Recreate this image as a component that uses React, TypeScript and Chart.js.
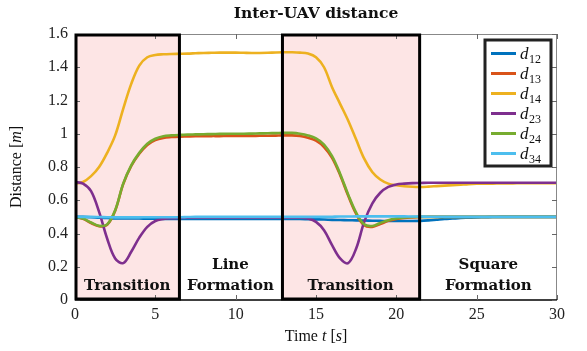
import React, { useEffect, useRef } from 'react';
import { Chart, registerables } from 'chart.js';

Chart.register(...registerables);

// Sample times [s]
const timeS = [
  0, 0.5, 1, 1.5, 2, 2.5, 3, 3.5, 4, 4.5, 5, 5.5, 6, 6.5, 7, 7.5, 8, 8.5, 9, 9.5,
  10, 10.5, 11, 11.5, 12, 12.5, 13, 13.5, 14, 14.5, 15, 15.5, 16, 16.5, 17, 17.5, 18, 18.5, 19, 19.5,
  20, 20.5, 21, 21.5, 22, 22.5, 23, 23.5, 24, 24.5, 25, 25.5, 26, 26.5, 27, 27.5, 28, 28.5, 29, 29.5, 30,
];

// Pairwise distances [m]
const d12 = [
  0.5, 0.5, 0.498, 0.495, 0.493, 0.491, 0.49, 0.49, 0.49, 0.489, 0.489, 0.488, 0.488, 0.488, 0.488, 0.488, 0.488, 0.488, 0.488, 0.488,
  0.488, 0.488, 0.488, 0.488, 0.488, 0.488, 0.488, 0.487, 0.487, 0.486, 0.485, 0.484, 0.482, 0.481, 0.48, 0.479, 0.478, 0.477, 0.476, 0.475,
  0.475, 0.475, 0.475, 0.476, 0.479, 0.483, 0.487, 0.49, 0.493, 0.495, 0.497, 0.498, 0.499, 0.5, 0.5, 0.5, 0.5, 0.5, 0.5, 0.5, 0.5,
];
const d13 = [
  0.5, 0.488, 0.463, 0.444, 0.452, 0.537, 0.697, 0.806, 0.88, 0.933, 0.962, 0.975, 0.98, 0.983, 0.984, 0.985, 0.985, 0.986, 0.986, 0.987,
  0.987, 0.987, 0.987, 0.988, 0.988, 0.989, 0.99, 0.99, 0.986, 0.976, 0.958, 0.92, 0.855, 0.752, 0.628, 0.518, 0.449, 0.44, 0.457, 0.476,
  0.488, 0.494, 0.497, 0.499, 0.5, 0.5, 0.5, 0.5, 0.5, 0.5, 0.5, 0.5, 0.5, 0.5, 0.5, 0.5, 0.5, 0.5, 0.5, 0.5, 0.5,
];
const d14 = [
  0.7, 0.71, 0.745, 0.8, 0.885, 0.99, 1.15, 1.3, 1.41, 1.46, 1.474, 1.478, 1.48, 1.481, 1.482, 1.484, 1.486, 1.487, 1.488, 1.488,
  1.488, 1.487, 1.486, 1.486, 1.487, 1.489, 1.49, 1.49, 1.488, 1.482, 1.46, 1.4, 1.28, 1.18, 1.08, 0.965, 0.85, 0.77, 0.725, 0.7,
  0.69, 0.684, 0.681, 0.68, 0.682, 0.685, 0.688, 0.691, 0.694, 0.697, 0.699, 0.7, 0.7, 0.701, 0.701, 0.702, 0.702, 0.702, 0.702, 0.702, 0.702,
];
const d23 = [
  0.71, 0.7, 0.655, 0.53, 0.37, 0.25, 0.222, 0.29, 0.375, 0.44, 0.475, 0.487, 0.492, 0.494, 0.495, 0.495, 0.495, 0.495, 0.495, 0.495,
  0.495, 0.495, 0.495, 0.495, 0.495, 0.495, 0.495, 0.495, 0.495, 0.49, 0.47, 0.42, 0.33, 0.25, 0.222, 0.31, 0.47, 0.58, 0.645, 0.68,
  0.695, 0.7, 0.703, 0.704, 0.705, 0.705, 0.705, 0.705, 0.705, 0.705, 0.705, 0.705, 0.705, 0.705, 0.705, 0.705, 0.705, 0.705, 0.705, 0.705, 0.705,
];
const d24 = [
  0.5, 0.49, 0.466, 0.446, 0.455, 0.54, 0.7, 0.81, 0.885, 0.94, 0.97, 0.985, 0.99, 0.993, 0.995, 0.996, 0.997, 0.998, 0.999, 1.0,
  1.0, 1.0, 1.001, 1.002, 1.003, 1.004, 1.005, 1.005, 1.0, 0.99, 0.972, 0.935, 0.865, 0.76, 0.635, 0.525, 0.455, 0.445, 0.463, 0.48,
  0.49, 0.496, 0.499, 0.5, 0.5, 0.5, 0.5, 0.5, 0.5, 0.5, 0.5, 0.5, 0.5, 0.5, 0.5, 0.5, 0.5, 0.5, 0.5, 0.5, 0.5,
];
const d34 = [
  0.5, 0.5, 0.5, 0.499, 0.498, 0.497, 0.497, 0.497, 0.497, 0.498, 0.498, 0.498, 0.498, 0.498, 0.499, 0.5, 0.5, 0.5, 0.5, 0.5,
  0.5, 0.5, 0.5, 0.5, 0.5, 0.5, 0.5, 0.5, 0.5, 0.5, 0.5, 0.5, 0.501, 0.502, 0.502, 0.503, 0.503, 0.503, 0.503, 0.503,
  0.503, 0.503, 0.502, 0.502, 0.501, 0.501, 0.5, 0.5, 0.5, 0.5, 0.5, 0.5, 0.5, 0.5, 0.5, 0.5, 0.5, 0.5, 0.5, 0.5, 0.5,
];

const seriesNames = ['12', '13', '14', '23', '24', '34'];
const seriesValues = [d12, d13, d14, d23, d24, d34];
const seriesColors = ['#0072BD', '#D95319', '#EDB120', '#7E2F8E', '#77AC30', '#4DBEEE'];

const xTickLabels = ['0', '5', '10', '15', '20', '25', '30'];
const yTickLabels = ['0', '0.2', '0.4', '0.6', '0.8', '1', '1.2', '1.4', '1.6'];

// Mission phases along the time axis
const phaseStart = [0, 6.5, 12.85, 21.45];
const phaseEnd = [6.5, 12.85, 21.45, 30];
const phaseLabels = [['Transition'], ['Line', 'Formation'], ['Transition'], ['Square', 'Formation']];
const phaseShaded = [true, false, true, false];

const SERIF = '"Liberation Serif", "DejaVu Serif", serif';
const BOLD_SERIF = '"DejaVu Serif", "Liberation Serif", serif';

const decorPlugin = {
  id: 'decor',
  beforeDatasetsDraw(chart: any) {
    const { ctx, chartArea, scales } = chart;
    const x = scales.x;
    ctx.save();
    ctx.fillStyle = '#fde5e5';
    phaseStart.forEach((s, i) => {
      if (!phaseShaded[i]) return;
      const x0 = x.getPixelForValue(s);
      const x1 = x.getPixelForValue(phaseEnd[i]);
      ctx.fillRect(x0, chartArea.top, x1 - x0, chartArea.bottom - chartArea.top);
    });
    ctx.restore();
  },
  afterDatasetsDraw(chart: any) {
    const { ctx, chartArea, scales } = chart;
    const x = scales.x;
    const y = scales.y;
    const { left, right, top, bottom } = chartArea;
    ctx.save();

    // frame
    ctx.strokeStyle = '#888';
    ctx.lineWidth = 1;
    ctx.beginPath();
    ctx.moveTo(left, top + 0.5);
    ctx.lineTo(right, top + 0.5);
    ctx.moveTo(right - 0.5, top);
    ctx.lineTo(right - 0.5, bottom);
    ctx.stroke();
    ctx.strokeStyle = '#000';
    ctx.lineWidth = 1.5;
    ctx.beginPath();
    ctx.moveTo(left, bottom);
    ctx.lineTo(right, bottom);
    ctx.stroke();

    // inward tick marks
    ctx.strokeStyle = '#666';
    ctx.lineWidth = 1;
    ctx.beginPath();
    xTickLabels.forEach((lbl) => {
      const px = Math.round(x.getPixelForValue(Number(lbl))) + 0.5;
      ctx.moveTo(px, bottom);
      ctx.lineTo(px, bottom - 5);
      ctx.moveTo(px, top);
      ctx.lineTo(px, top + 5);
    });
    yTickLabels.forEach((lbl) => {
      const py = Math.round(y.getPixelForValue(Number(lbl))) + 0.5;
      ctx.moveTo(left, py);
      ctx.lineTo(left + 5, py);
      ctx.moveTo(right, py);
      ctx.lineTo(right - 5, py);
    });
    ctx.stroke();

    // phase box borders
    ctx.strokeStyle = '#000';
    ctx.lineWidth = 3;
    phaseStart.forEach((s, i) => {
      if (!phaseShaded[i]) return;
      const x0 = x.getPixelForValue(s);
      const x1 = x.getPixelForValue(phaseEnd[i]);
      ctx.strokeRect(x0 + 1, top + 1, x1 - x0 - 1, bottom - top - 2);
    });

    // phase labels
    ctx.fillStyle = '#111';
    ctx.font = `bold 15px ${BOLD_SERIF}`;
    ctx.textAlign = 'center';
    ctx.textBaseline = 'alphabetic';
    phaseStart.forEach((s, i) => {
      const cx = (x.getPixelForValue(s) + x.getPixelForValue(phaseEnd[i])) / 2;
      const lines = phaseLabels[i];
      lines.forEach((ln, j) => {
        const by = bottom - 10 - (lines.length - 1 - j) * 21;
        ctx.fillText(ln, cx, by);
      });
    });

    // legend
    const lx = 485, ly = 40, lw = 66, lh = 126;
    ctx.fillStyle = '#fff';
    ctx.fillRect(lx, ly, lw, lh);
    ctx.strokeStyle = '#222';
    ctx.lineWidth = 3;
    ctx.strokeRect(lx, ly, lw, lh);
    seriesNames.forEach((name, i) => {
      const ry = 53.5 + i * 20;
      ctx.strokeStyle = seriesColors[i];
      ctx.lineWidth = 3;
      ctx.beginPath();
      ctx.moveTo(491, ry);
      ctx.lineTo(516, ry);
      ctx.stroke();
      ctx.fillStyle = '#111';
      ctx.textAlign = 'left';
      ctx.textBaseline = 'alphabetic';
      ctx.font = `italic 17px ${SERIF}`;
      ctx.fillText('d', 520, ry + 5);
      ctx.font = `12px ${SERIF}`;
      ctx.fillText(name, 529, ry + 9);
    });

    ctx.restore();

    // title and axis titles
    ctx.save();
    ctx.fillStyle = '#111';
    ctx.textBaseline = 'alphabetic';
    ctx.font = `bold 15.5px ${BOLD_SERIF}`;
    ctx.textAlign = 'center';
    ctx.fillText('Inter-UAV distance', (left + right) / 2, 18);

    const drawParts = (cx: number, cy: number, ps: { t: string; f: string }[]) => {
      let total = 0;
      ps.forEach((p) => { ctx.font = p.f; total += ctx.measureText(p.t).width; });
      let px = cx - total / 2;
      ctx.textAlign = 'left';
      ps.forEach((p) => { ctx.font = p.f; ctx.fillText(p.t, px, cy); px += ctx.measureText(p.t).width; });
    };
    // x axis title: "Time t [s]"
    drawParts((left + right) / 2, 341, [
      { t: 'Time ', f: `16px ${SERIF}` },
      { t: 't', f: `italic 16px ${SERIF}` },
      { t: ' [', f: `16px ${SERIF}` },
      { t: 's', f: `italic 16px ${SERIF}` },
      { t: ']', f: `16px ${SERIF}` },
    ]);

    // y axis title: "Distance [m]"
    ctx.translate(21, (top + bottom) / 2);
    ctx.rotate(-Math.PI / 2);
    drawParts(0, 0, [
      { t: 'Distance [', f: `16px ${SERIF}` },
      { t: 'm', f: `italic 16px ${SERIF}` },
      { t: ']', f: `16px ${SERIF}` },
    ]);
    ctx.restore();
  },
};

export default function App() {
  const canvasRef = useRef<HTMLCanvasElement | null>(null);

  useEffect(() => {
    if (!canvasRef.current) return;
    const chart = new Chart(canvasRef.current, {
      type: 'line',
      data: {
        datasets: seriesNames.map((name, i) => ({
          label: 'd' + name,
          data: timeS.map((t, k) => ({ x: t, y: seriesValues[i][k] })),
          borderColor: seriesColors[i],
          backgroundColor: seriesColors[i],
          borderWidth: 2.6,
          pointRadius: 0,
          tension: 0.35,
          fill: false,
          // later series are drawn on top
          order: seriesNames.length - i,
        })),
      },
      options: {
        responsive: false,
        animation: false,
        events: [],
        layout: { padding: { left: 0, right: 30, top: 34, bottom: 0 } },
        plugins: { legend: { display: false }, tooltip: { enabled: false }, title: { display: false } },
        scales: {
          x: {
            type: 'linear',
            min: 0,
            max: 30,
            grid: { display: false, drawTicks: false },
            border: { display: false },
            afterFit: (scale: any) => { scale.height = 51; },
            ticks: {
              stepSize: 5,
              padding: 5,
              color: '#222',
              font: { family: SERIF, size: 16 },
              maxRotation: 0,
              callback: (_v: any, idx: number) => xTickLabels[idx],
            },
          },
          y: {
            type: 'linear',
            min: 0,
            max: 1.6,
            grid: { display: false, drawTicks: false },
            border: { display: false },
            afterFit: (scale: any) => { scale.width = 75; },
            ticks: {
              stepSize: 0.2,
              padding: 7,
              color: '#222',
              font: { family: SERIF, size: 16 },
              callback: (_v: any, idx: number) => yTickLabels[idx],
            },
          },
        },
      },
      plugins: [decorPlugin],
    });
    return () => chart.destroy();
  }, []);

  return (
    <div style={{ position: 'fixed', left: 0, top: 0, width: 587, height: 351, background: '#fff' }}>
      <canvas ref={canvasRef} width={587} height={351} style={{ display: 'block' }} />
    </div>
  );
}
